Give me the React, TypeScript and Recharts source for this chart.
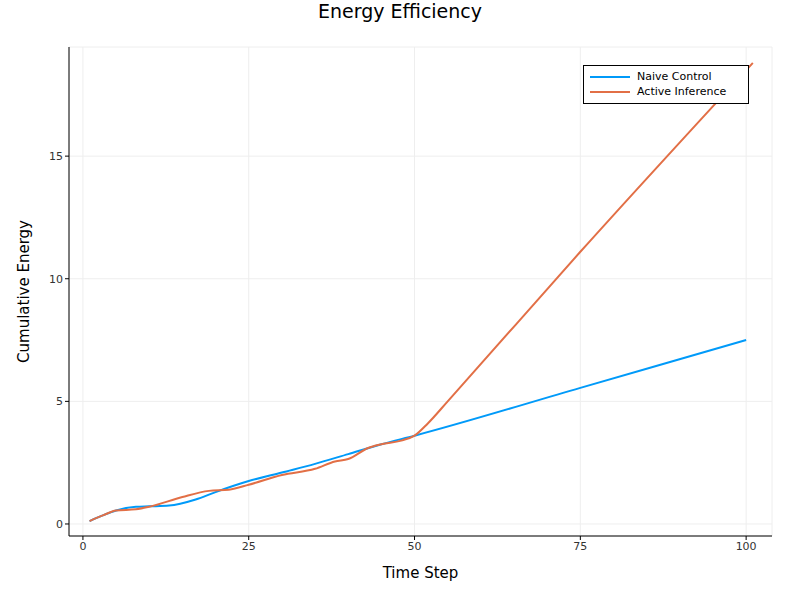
import React from "react";
import { LineChart, Line, XAxis, YAxis, CartesianGrid, Label } from "recharts";

const naiveX = [1, 3, 5, 8, 10, 13, 17, 20, 25, 30, 35, 40, 45, 50, 75, 100];
const naiveY = [0.12, 0.35, 0.55, 0.7, 0.72, 0.75, 1.0, 1.3, 1.75, 2.1, 2.45, 2.85, 3.25, 3.6, 5.55, 7.5];
const activeX = [1, 3, 5, 8, 10, 15, 19, 22, 25, 30, 35, 38, 40, 43, 45, 48, 50, 52, 55, 75, 101];
const activeY = [0.12, 0.35, 0.55, 0.6, 0.7, 1.1, 1.35, 1.4, 1.6, 2.0, 2.25, 2.55, 2.65, 3.1, 3.25, 3.4, 3.6, 4.1, 5.0, 11.1, 18.8];
const xTicks = [0, 25, 50, 75, 100];
const yTicks = [0, 5, 10, 15];

const naive = naiveX.map((x, i) => ({ x, y: naiveY[i] }));
const active = activeX.map((x, i) => ({ x, y: activeY[i] }));

const font = "DejaVu Sans, sans-serif";

const LegendBox = () => (
  <div style={{ position: "absolute", left: 583, top: 65, boxSizing: "border-box", width: 166, height: 39, border: "1px solid #000", background: "#fff", padding: "3px 6px", fontFamily: font, fontSize: 11 }}>
    {[["Naive Control", "#009af9"], ["Active Inference", "#e26f46"]].map(([n, c]) => (
      <div key={n} style={{ display: "flex", alignItems: "center", height: 15 }}>
        <span style={{ display: "inline-block", width: 40, height: 2, background: c, marginRight: 7 }} />
        {n}
      </div>
    ))}
  </div>
);

export default function App() {
  return (
    <div style={{ position: "absolute", left: 0, top: 0, width: 800, height: 600, background: "#fff" }}>
      <div style={{ position: "absolute", top: 0, width: 800, textAlign: "center", fontFamily: font, fontSize: 19, color: "#000" }}>Energy Efficiency</div>
      <LineChart width={800} height={600} margin={{ top: 47, right: 28, left: 0, bottom: 0 }}>
        <CartesianGrid stroke="#eee" strokeWidth={1} />
        <XAxis type="number" dataKey="x" domain={[-2.1, 103.9]} ticks={xTicks} height={64} allowDataOverflow
          tick={{ fontSize: 11, fill: "#333", fontFamily: font }} tickLine={{ stroke: "#000" }} tickSize={4} axisLine={{ stroke: "#000" }}>
          <Label value="Time Step" position="insideBottom" offset={22} style={{ fontSize: 15, fill: "#000", fontFamily: font }} />
        </XAxis>
        <YAxis type="number" dataKey="y" domain={[-0.49, 19.45]} ticks={yTicks} width={69} allowDataOverflow
          tick={{ fontSize: 11, fill: "#333", fontFamily: font }} tickLine={{ stroke: "#000" }} tickSize={4} axisLine={{ stroke: "#000" }}>
          <Label value="Cumulative Energy" angle={-90} position="insideLeft" offset={24} style={{ fontSize: 15, fill: "#000", fontFamily: font, textAnchor: "middle" }} />
        </YAxis>
        <Line data={naive} dataKey="y" type="monotone" stroke="#009af9" strokeWidth={2} dot={false} isAnimationActive={false} name="Naive Control" />
        <Line data={active} dataKey="y" type="monotone" stroke="#e26f46" strokeWidth={2} dot={false} isAnimationActive={false} name="Active Inference" />
      </LineChart>
      <LegendBox />
    </div>
  );
}
